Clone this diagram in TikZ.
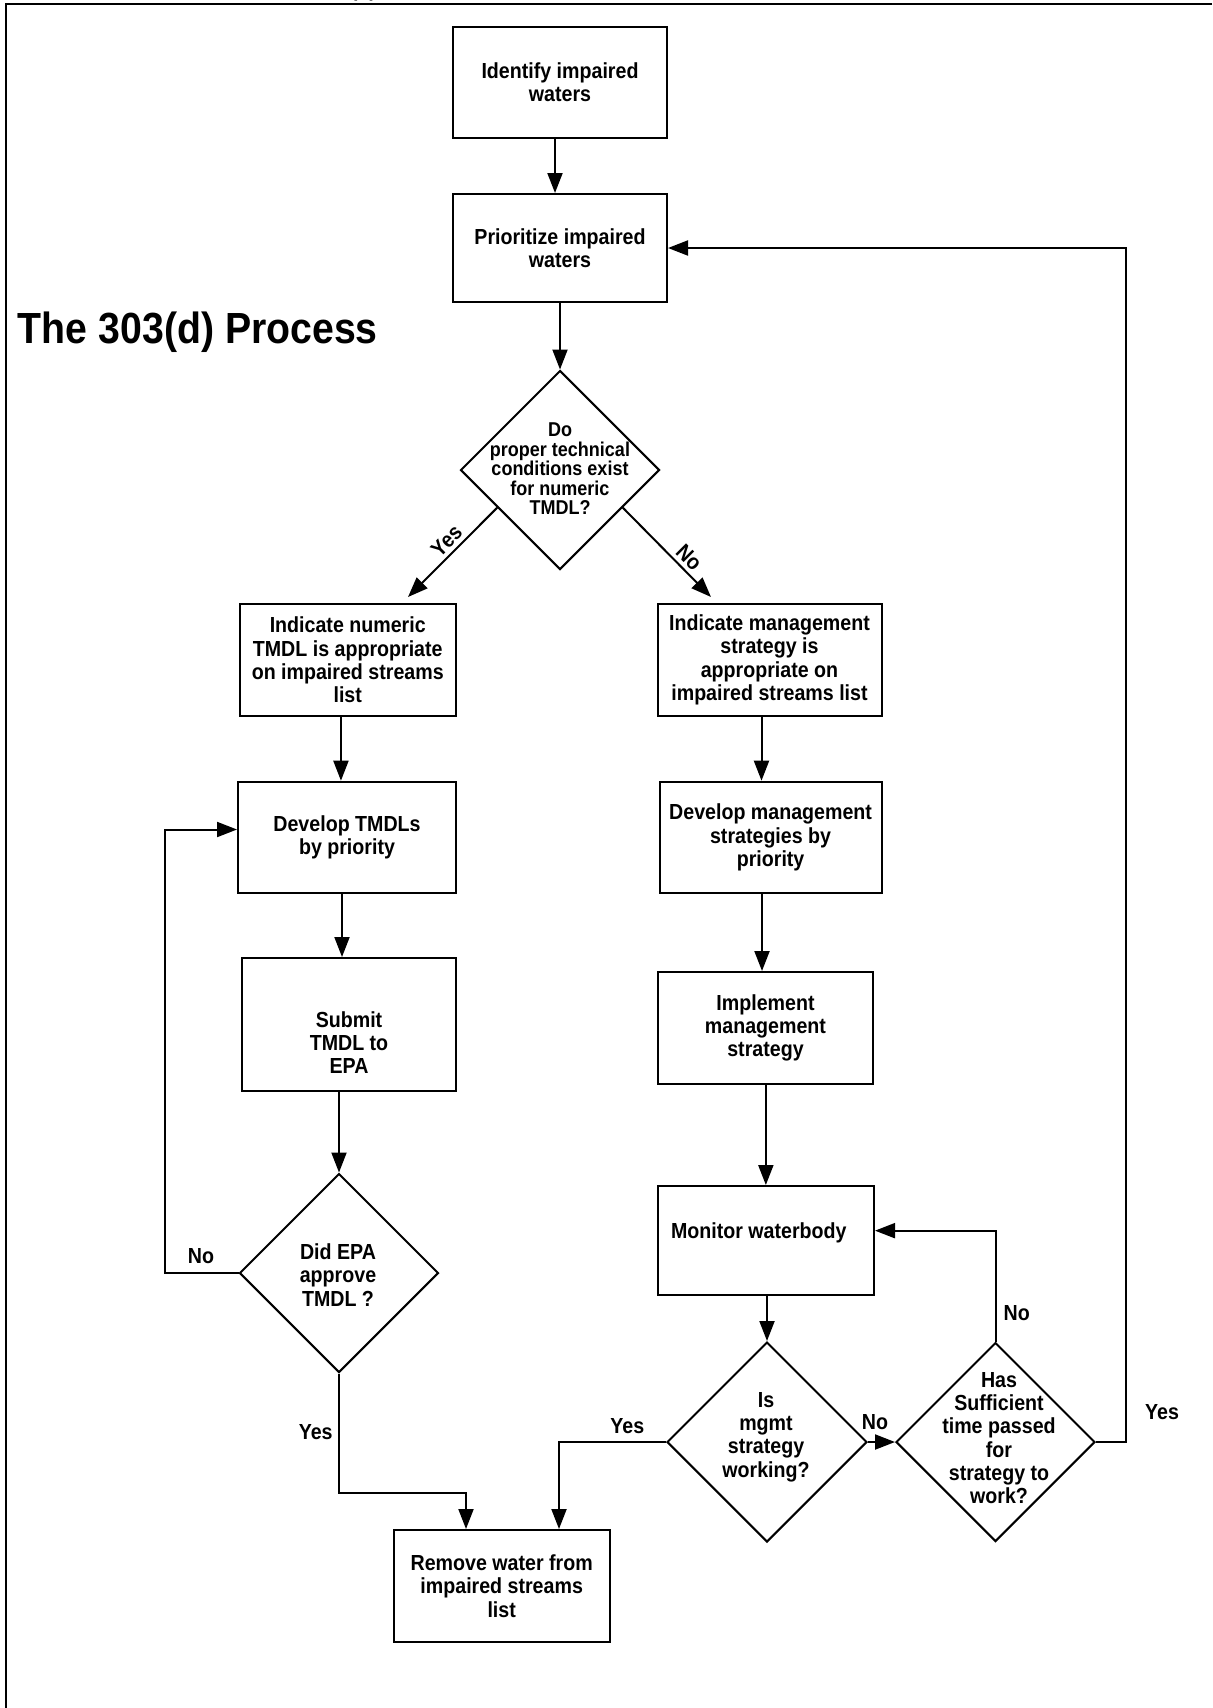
\documentclass[tikz,border=0pt]{standalone}
\usepackage{fontspec}
\setmainfont{Liberation Sans}[FakeStretch=0.9]
\usetikzlibrary{shapes.geometric,arrows.meta,calc}
\newcommand\myboxfont{\bfseries\fontsize{10.9}{11.65}\selectfont}
\newcommand\mysmallfont{\bfseries\fontsize{10}{9.75}\selectfont}
\begin{document}
\begin{tikzpicture}[x=0.5pt,y=-0.5pt,line width=1pt,
  >={Triangle[length=10pt,width=7.5pt]},
  box/.style={draw,rectangle,inner sep=0pt,align=center,font=\myboxfont},
  dia/.style={draw,diamond,shape aspect=1,inner sep=0pt,minimum width=99.5pt,minimum height=99.5pt},
  dtext/.style={align=center,inner sep=0pt,font=\myboxfont},
  lab/.style={inner sep=0pt,font=\myboxfont}]
\useasboundingbox (0,0) rectangle (1212,1708);
\draw (1212,4) -- (6,4) -- (6,1708);
\node[lab,anchor=base] (dtop) at (363.5,-4) {(d)};
\node[inner sep=0pt,anchor=base west,font=\bfseries\fontsize{21.8}{26}\selectfont] (title) at (17,343.3) {The 303(d) Process};

% boxes
\node[box,minimum width=107pt,minimum height=55.5pt] (ident) at (560,82.5) {Identify impaired\\waters};
\node[box,minimum width=107pt,minimum height=54pt] (prio) at (560,248) {Prioritize impaired\\waters};
\node[box,minimum width=108.25pt,minimum height=56pt] (ind1) at (347.75,660) {Indicate numeric\\TMDL is appropriate\\on impaired streams\\list};
\node[box,minimum width=112pt,minimum height=56pt] (ind2) at (769.5,660) {Indicate management\\strategy is\\appropriate on\\impaired streams list};
\node[box,minimum width=109pt,minimum height=55.8pt] (dev1) at (347,837.5) {Develop TMDLs\\by priority};
\node[box,minimum width=111pt,minimum height=55.8pt] (dev2) at (770.6,837.5) {Develop management\\strategies by\\priority};
\node[box,minimum width=107.25pt,minimum height=66.5pt] (sub) at (349,1024.5) {\raisebox{-13.5pt}[0pt][0pt]{\begin{tabular}{@{}c@{}}Submit\\TMDL to\\EPA\end{tabular}}};
\node[box,minimum width=107.8pt,minimum height=55.75pt] (impl) at (765.5,1027.75) {Implement\\management\\strategy};
\node[box,minimum width=108.15pt,minimum height=54.65pt] (mon) at (765.85,1240.65) {\raisebox{1pt}[0pt][0pt]{Monitor waterbody}\kern7pt};
\node[box,minimum width=108pt,minimum height=56.15pt] (rem) at (501.7,1586.15) {Remove water from\\impaired streams\\list};

% diamonds
\node[dia] (d1) at (560,470) {};
\node[dtext,font=\mysmallfont] (d1t) at (560,469) {Do\\proper technical\\conditions exist\\for numeric\\TMDL?};
\node[dia] (epa) at (339,1273) {};
\node[dtext] (epat) at (338,1275) {Did EPA\\approve\\TMDL ?};
\node[dia,minimum width=100pt,minimum height=100pt] (mg) at (767,1442) {};
\node[dtext] (mgt) at (766,1437) {Is\\mgmt\\strategy\\working?};
\node[dia] (has) at (995.5,1442) {};
\node[dtext] (hast) at (999,1438) {Has\\Sufficient\\time passed\\for\\strategy to\\work?};

% connectors
\draw[->] ([xshift=-2.5pt]ident.south) -- ([xshift=-2.5pt]ident.south |- prio.north);
\draw[->] (prio.south) -- (d1.north);
\draw[->] ($(d1.west)!0.375!(d1.south)$) -- ($(ind1.north)+(60.25,-6)$);
\draw[->] ($(d1.east)!0.375!(d1.south)$) -- ($(ind2.north)+(-58.5,-6)$);
\draw[->] ([xshift=-3.4pt]ind1.south) -- ([xshift=-3.4pt]ind1.south |- dev1.north);
\draw[->] ([xshift=-4pt]ind2.south) -- ([xshift=-4pt]ind2.south |- dev2.north);
\draw[->] ([xshift=-2.5pt]dev1.south) -- ([xshift=-2.5pt]dev1.south |- sub.north);
\draw[->] ([xshift=-4.3pt]dev2.south) -- ([xshift=-4.3pt]dev2.south |- impl.north);
\draw[->] (impl.south -| mon.north) -- (mon.north);
\draw[->] (sub.south -| epa.north) -- (epa.north);
\draw[->] (mon.south -| mg.north) -- (mg.north);
\draw[->] (epa.west) -- ++(-74,0) |- ([yshift=4pt]dev1.west);
\draw[->] (epa.south) -- ++(0,119) -| ([xshift=-17.85pt]rem.north);
\draw[->] (mg.west) -| ([xshift=28.65pt]rem.north);
\draw[->] (mg.east) -- (has.west);
\draw[->] (has.north) |- ([yshift=5pt]mon.east);
\draw[->] (has.east) -- ++(30,0) |- (prio.east);

% labels
\node[lab,rotate=45] (lyes1) at (446.5,541) {Yes};
\node[lab,rotate=-45] (lno1) at (689,557.5) {No};
\node[lab] (lno2) at (201,1256.5) {No};
\node[lab] (lyes2) at (315.7,1431.7) {Yes};
\node[lab] (lyes3) at (627.3,1426) {Yes};
\node[lab] (lno3) at (875,1422.3) {No};
\node[lab] (lno4) at (1016.7,1313.3) {No};
\node[lab] (lyes4) at (1162,1412) {Yes};
\end{tikzpicture}
\end{document}
